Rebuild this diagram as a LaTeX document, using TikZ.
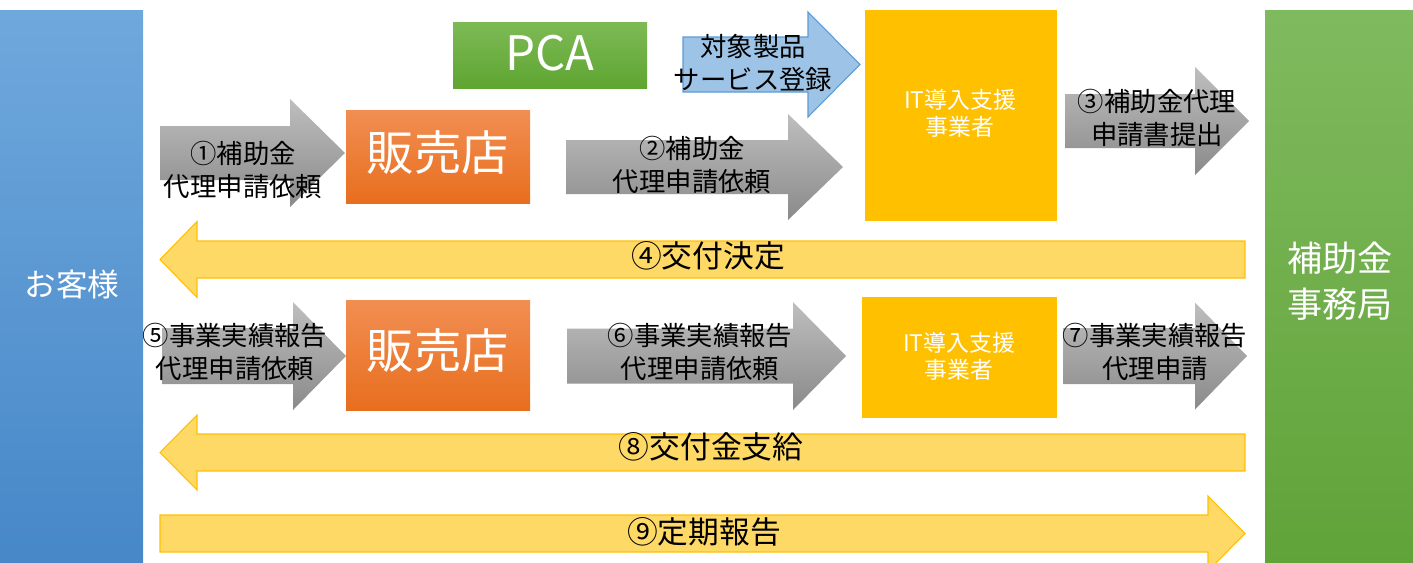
\documentclass[tikz,border=0pt]{standalone}
\usepackage{fontspec}
\setmainfont{Noto Sans CJK JP}
\usepackage{tikz}
\usetikzlibrary{shapes,arrows}

\definecolor{custblue}{HTML}{5B9BD5}
\definecolor{officegreen}{HTML}{70AD47}
\definecolor{shoporange}{HTML}{ED7D31}
\definecolor{itgold}{HTML}{FFC000}
\definecolor{flowyellow}{HTML}{FFD966}
\definecolor{reglight}{HTML}{9DC3E6}

\tikzstyle{bigbox} = [rectangle, text=white, align=center, inner sep=0pt]
\tikzstyle{label} = [align=center, inner sep=0pt, font=\fontsize{15}{18.7}\selectfont]
\tikzstyle{grayarrow} = [top color={rgb,255:red,190;green,190;blue,190}, bottom color={rgb,255:red,138;green,138;blue,138}]
\tikzstyle{yellowarrow} = [fill=flowyellow, draw=itgold, line width=0.6pt]
\tikzstyle{bluearrow} = [fill=reglight, draw=custblue, line width=0.6pt]

% block arrow: style, tail x, head base x, tip x, centre y, body half, head half
\newcommand{\blockarrow}[7]{%
  \path[#1] (#2,#5-#6) -- (#3,#5-#6) -- (#3,#5-#7) -- (#4,#5)
    -- (#3,#5+#7) -- (#3,#5+#6) -- (#2,#5+#6) -- cycle;}

\begin{document}
\begin{tikzpicture}[x=0.02cm, y=-0.02cm]
	\useasboundingbox (0,0) rectangle (1413,562);
	\clip (0,0) rectangle (1413,562);

	% Place boxes
	\shade[top color={rgb,255:red,111;green,168;blue,220}, bottom color={rgb,255:red,70;green,135;blue,200}] (0,10) rectangle (143,570);
	\node [bigbox, font=\fontsize{18}{22}\selectfont] (customer) at (72,284) {お客様};
	\shade[top color={rgb,255:red,128;green,186;blue,95}, bottom color={rgb,255:red,96;green,163;blue,56}] (1265,10) rectangle (1413,570);
	\node [bigbox, font=\fontsize{20}{26}\selectfont] (office) at (1340,281) {補助金\\事務局};

	\shade[top color={rgb,255:red,125;green,186;blue,85}, bottom color={rgb,255:red,95;green,165;blue,50}] (453,22) rectangle (647,88);
	\node [bigbox, font=\fontsize{27}{30}\selectfont] (pca) at (550,53) {PCA};

	\shade[top color={rgb,255:red,241;green,142;blue,82}, bottom color={rgb,255:red,232;green,110;blue,30}] (346,110) rectangle (530,203);
	\node [bigbox, font=\fontsize{27}{30}\selectfont] (shop) at (438,153) {販売店};
	\shade[top color={rgb,255:red,241;green,142;blue,82}, bottom color={rgb,255:red,232;green,110;blue,30}] (346,300) rectangle (530,410);
	\node [bigbox, font=\fontsize{27}{30}\selectfont] (shop2) at (438,351) {販売店};

	\fill[itgold] (865,10) rectangle (1057,221);
	\node [bigbox, font=\fontsize{13}{15.3}\selectfont] (vendor) at (960,113) {IT導入支援\\事業者};
	\fill[itgold] (862,297) rectangle (1057,418);
	\node [bigbox, font=\fontsize{13}{15.3}\selectfont] (vendor2) at (959,356) {IT導入支援\\事業者};

	% Place arrows
	\blockarrow{bluearrow}{683}{808}{860}{64.5}{27.5}{52.5}
	\node [label] (register) at (753,63) {対象製品\\サービス登録};

	\blockarrow{grayarrow}{160}{290}{345}{153}{27}{54}
	\node [label] (req1) at (243,170) {①補助金\\代理申請依頼};
	\blockarrow{grayarrow}{566}{788}{843}{167}{27}{53}
	\node [label] (req2) at (692,165) {②補助金\\代理申請依頼};
	\blockarrow{grayarrow}{1065}{1195}{1249}{121}{27}{54}
	\node [label] (req3) at (1157,118) {③補助金代理\\申請書提出};

	\blockarrow{yellowarrow}{1245}{197}{160}{259.5}{18.5}{38}
	\node [label, font=\fontsize{17.5}{20}\selectfont] (grant) at (708,256) {④交付決定};

	\blockarrow{grayarrow}{162}{293}{346}{356}{28}{54}
	\node [label] (rep5) at (235,352) {⑤事業実績報告\\代理申請依頼};
	\blockarrow{grayarrow}{567}{793}{846}{356}{27.5}{54}
	\node [label] (rep6) at (700,352) {⑥事業実績報告\\代理申請依頼};
	\blockarrow{grayarrow}{1063}{1195}{1247}{356}{28}{53.5}
	\node [label] (rep7) at (1155,352) {⑦事業実績報告\\代理申請};

	\blockarrow{yellowarrow}{1245}{197}{160}{452.5}{18.5}{37.5}
	\node [label, font=\fontsize{17.5}{20}\selectfont] (pay) at (711,447) {⑧交付金支給};

	\blockarrow{yellowarrow}{160}{1208}{1245}{533.5}{18.5}{37.5}
	\node [label, font=\fontsize{17.5}{20}\selectfont] (report) at (704,532) {⑨定期報告};
\end{tikzpicture}
\end{document}
